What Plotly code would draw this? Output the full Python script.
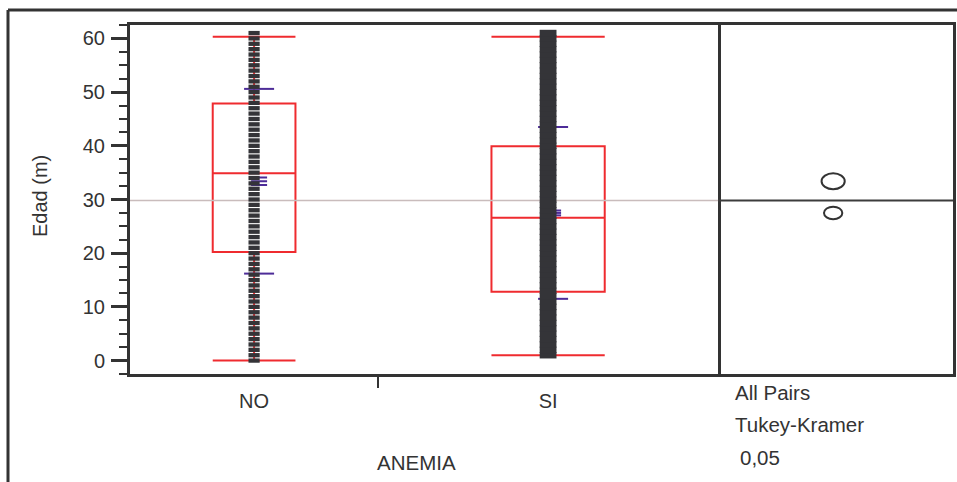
import plotly.graph_objects as go

W, H = 957, 482

# ---- data -------------------------------------------------------------
grupos = ["NO", "SI"]
n_grupo = [214, 293]          # group sizes (set the width of each group)

edad_no = [0, 1, 2, 3, 4, 5, 6, 7, 8, 9, 10, 11, 12, 13, 14, 15, 16, 17,
           18, 19, 20, 21, 22, 23, 24, 25, 26, 27, 28, 29, 30, 31, 32, 33,
           34, 35, 36, 37, 38, 39, 40, 41, 42, 43, 44, 45, 46, 47, 48, 49,
           50, 51, 52, 53, 54, 55, 56, 57, 58, 59, 60, 61]
edad_si = [1, 2, 3, 4, 5, 6, 7, 8, 9, 10, 11, 12, 13, 14, 15, 16, 17, 18,
           19, 20, 21, 22, 23, 24, 25, 26, 27, 28, 29, 30, 31, 32, 33, 34,
           35, 36, 37, 38, 39, 40, 41, 42, 43, 44, 45, 46, 47, 48, 49, 50,
           51, 52, 53, 54, 55, 56, 57, 58, 59, 60, 61]

# quantile box plot statistics
minimo = [0.0, 1.0]
q1 = [20.2, 12.8]
mediana = [34.9, 26.6]
q3 = [47.9, 39.9]
maximo = [60.3, 60.3]

# means, standard deviations and half-width of the mean's interval
media = [33.4, 27.5]
desv = [17.2, 16.0]
ic_media = [0.7, 0.45]

# Tukey-Kramer comparison circle radii (y units)
radio_tk = [1.48, 1.17]
media_global = 29.8

# ---- styling ----------------------------------------------------------
ROJO = "#ef2b2f"
MORADO = "#4d2c98"
PUNTO = "#343438"
EJE = "#333333"
GRIS = "#c9bcbc"
FUENTE = "Liberation Sans, Arial, Helvetica, sans-serif"

Y_RANGO = [-2.5, 62.5]
X2_RANGO = [-14.7, 15.3]

dom_x = [130 / W, 718 / W]
dom_x2 = [718 / W, 953 / W]
dom_y = [1 - 374 / H, 1 - 25 / H]

# group boundaries along the x axis, proportional to group sizes
total = sum(n_grupo)
bordes = [0.0]
for n in n_grupo:
    bordes.append(bordes[-1] + n / total)
centros = [(bordes[i] + bordes[i + 1]) / 2 for i in range(len(grupos))]
anchos = [bordes[i + 1] - bordes[i] for i in range(len(grupos))]

px_x = 1.0 / (dom_x[1] - dom_x[0]) / W   # x units per pixel
desplaz = 5 * px_x
ancho_de = 15 * px_x
ancho_media = 8 * px_x

fig = go.Figure()

# grand mean reference line
fig.add_trace(go.Scatter(
    x=[0, 1], y=[media_global, media_global], mode="lines",
    line=dict(color=GRIS, width=1.5), hoverinfo="skip", showlegend=False))

# quantile boxes
for i, g in enumerate(grupos):
    fig.add_trace(go.Box(
        x=[centros[i]], q1=[q1[i]], median=[mediana[i]], q3=[q3[i]],
        lowerfence=[minimo[i]], upperfence=[maximo[i]],
        width=anchos[i] / 3, whiskerwidth=1,
        line=dict(color=ROJO, width=2), fillcolor="rgba(0,0,0,0)",
        boxpoints=False, showlegend=False, hoverinfo="skip", name=g))

# mean / std dev lines
xs, ys = [], []
for i in range(len(grupos)):
    cx = centros[i] + desplaz
    for yv in (media[i] + desv[i], media[i] - desv[i]):
        xs += [cx - ancho_de, cx + ancho_de, None]
        ys += [yv, yv, None]
    for yv in (media[i] - ic_media[i], media[i], media[i] + ic_media[i]):
        xs += [cx - ancho_media, cx + ancho_media, None]
        ys += [yv, yv, None]
fig.add_trace(go.Scatter(
    x=xs, y=ys, mode="lines", line=dict(color=MORADO, width=2),
    hoverinfo="skip", showlegend=False))

# data points
fig.add_trace(go.Scatter(
    x=[centros[0]] * len(edad_no), y=edad_no, mode="markers",
    marker=dict(symbol="line-ew", size=8,
                line=dict(color=PUNTO, width=4.3)),
    hoverinfo="y", showlegend=False))
fig.add_trace(go.Scatter(
    x=[centros[1]] * len(edad_si), y=edad_si, mode="markers",
    marker=dict(symbol="line-ew", size=12,
                line=dict(color=PUNTO, width=6.5)),
    hoverinfo="y", showlegend=False))

# comparison circles panel
fig.add_trace(go.Scatter(
    x=X2_RANGO, y=[media_global, media_global], mode="lines",
    line=dict(color="#3c3c3c", width=2), xaxis="x2", yaxis="y2",
    hoverinfo="skip", showlegend=False))
for i in range(len(grupos)):
    r = radio_tk[i]
    fig.add_shape(type="circle", xref="x2", yref="y2",
                  x0=-r, x1=r, y0=media[i] - r, y1=media[i] + r,
                  line=dict(color=EJE, width=2))

fig.update_layout(
    width=W, height=H, autosize=False,
    margin=dict(l=0, r=0, t=0, b=0),
    paper_bgcolor="white", plot_bgcolor="white",
    font=dict(family=FUENTE, size=20, color=EJE),
    xaxis=dict(
        domain=dom_x, range=[0, 1], anchor="y",
        tickvals=centros, ticktext=grupos, ticks="",
        ticklabelstandoff=7,
        minor=dict(tickvals=[bordes[1]], ticks="outside", ticklen=11,
                   tickwidth=2, tickcolor=EJE),
        showline=True, mirror=True, linewidth=3, linecolor=EJE,
        showgrid=False, zeroline=False, fixedrange=True),
    yaxis=dict(
        domain=dom_y, range=Y_RANGO, anchor="x",
        tick0=0, dtick=10, ticks="outside", ticklen=16, tickwidth=2.5,
        tickcolor=EJE, ticklabelstandoff=2,
        minor=dict(dtick=2.5, ticks="outside", ticklen=8, tickwidth=2,
                   tickcolor=EJE),
        showline=True, mirror=True, linewidth=3, linecolor=EJE,
        showgrid=False, zeroline=False, fixedrange=True),
    xaxis2=dict(
        domain=dom_x2, range=X2_RANGO, anchor="y2",
        showticklabels=False, ticks="",
        showline=True, mirror=True, linewidth=3, linecolor=EJE,
        showgrid=False, zeroline=False, fixedrange=True),
    yaxis2=dict(
        domain=dom_y, range=Y_RANGO, anchor="x2", matches="y",
        side="right", showticklabels=False, ticks="",
        showline=True, mirror=False, linewidth=3, linecolor=EJE,
        showgrid=False, zeroline=False, fixedrange=True),
)

# outer report frame (left and top edges)
fig.add_shape(type="line", xref="paper", yref="paper",
              x0=8 / W, x1=8 / W, y0=1 - 10 / H, y1=0,
              line=dict(color=EJE, width=3))
fig.add_shape(type="line", xref="paper", yref="paper",
              x0=8 / W, x1=1, y0=1 - 10 / H, y1=1 - 10 / H,
              line=dict(color=EJE, width=3))

textos = [
    dict(text="ANEMIA", x=416 / W, y=1 - 462 / H, xanchor="center",
         size=20.5),
    dict(text="All Pairs", x=733 / W, y=1 - 392 / H, xanchor="left",
         size=20.5),
    dict(text="Tukey-Kramer", x=733 / W, y=1 - 424 / H, xanchor="left",
         size=20.5),
    dict(text="0,05", x=738 / W, y=1 - 457 / H, xanchor="left",
         size=20.5),
]
for t in textos:
    fig.add_annotation(text=t["text"], x=t["x"], y=t["y"], xref="paper",
                       yref="paper", xanchor=t["xanchor"], yanchor="middle",
                       showarrow=False, font=dict(size=t["size"], color=EJE))
fig.add_annotation(text="Edad (m)", x=40 / W, y=1 - 196 / H, xref="paper",
                   yref="paper", textangle=-90, showarrow=False,
                   xanchor="center", yanchor="middle",
                   font=dict(size=20, color=EJE))

fig.write_html("out.html")
